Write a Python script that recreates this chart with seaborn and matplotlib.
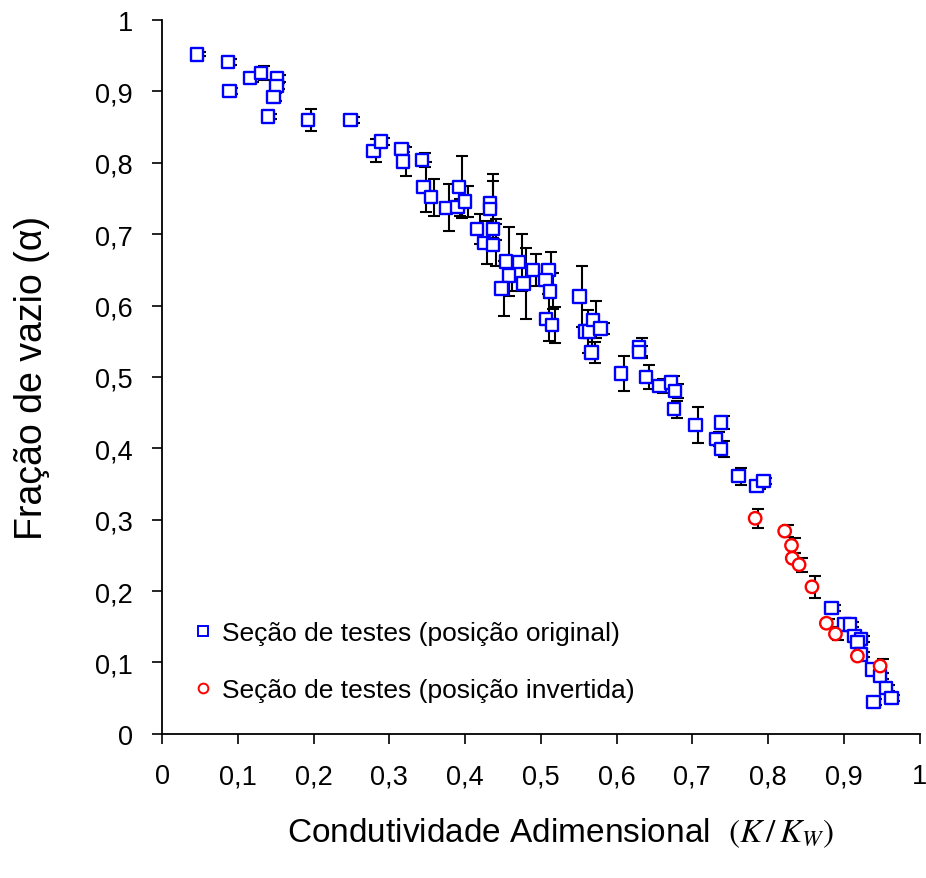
import numpy as np
import pandas as pd
import seaborn as sns
import matplotlib.pyplot as plt
from matplotlib.ticker import FuncFormatter
from matplotlib.transforms import offset_copy

# === DATA ===
orig_x = [0.046, 0.087, 0.089, 0.116, 0.131, 0.152, 0.151, 0.147, 0.140, 0.193,
          0.249, 0.279, 0.289, 0.316, 0.318, 0.343, 0.345, 0.355, 0.375, 0.392,
          0.390, 0.400, 0.416, 0.425, 0.433, 0.433, 0.437, 0.437, 0.454, 0.458,
          0.448, 0.471, 0.477, 0.490, 0.510, 0.506, 0.512, 0.507, 0.515, 0.551,
          0.559, 0.564, 0.569, 0.579, 0.567, 0.606, 0.630, 0.630, 0.639, 0.657,
          0.672, 0.677, 0.676, 0.704, 0.738, 0.731, 0.738, 0.761, 0.785, 0.794,
          0.884, 0.901, 0.908, 0.914, 0.923, 0.918, 0.923, 0.938, 0.948, 0.956,
          0.963, 0.939]
orig_y = [0.952, 0.941, 0.901, 0.919, 0.926, 0.918, 0.908, 0.892, 0.865, 0.860,
          0.860, 0.817, 0.830, 0.819, 0.802, 0.804, 0.766, 0.752, 0.737, 0.766,
          0.738, 0.746, 0.707, 0.688, 0.744, 0.735, 0.707, 0.685, 0.662, 0.642,
          0.624, 0.661, 0.631, 0.650, 0.650, 0.636, 0.620, 0.581, 0.573, 0.613,
          0.564, 0.564, 0.580, 0.568, 0.534, 0.505, 0.542, 0.535, 0.500, 0.487,
          0.492, 0.480, 0.455, 0.433, 0.436, 0.413, 0.399, 0.361, 0.347, 0.354,
          0.176, 0.153, 0.153, 0.137, 0.133, 0.129, 0.111, 0.090, 0.081, 0.064,
          0.050, 0.045]
orig_err = [0.003, 0.004, 0.004, 0.006, 0.010, 0.005, 0.004, 0.006, 0.004, 0.015,
            0.004, 0.016, 0.005, 0.004, 0.020, 0.010, 0.035, 0.026, 0.033, 0.043,
            0.012, 0.022, 0.021, 0.030, 0.040, 0.040, 0.015, 0.030, 0.048, 0.022,
            0.038, 0.040, 0.050, 0.022, 0.025, 0.020, 0.025, 0.030, 0.025, 0.043,
            0.030, 0.020, 0.026, 0.008, 0.015, 0.025, 0.012, 0.008, 0.017, 0.010,
            0.010, 0.010, 0.012, 0.025, 0.009, 0.010, 0.011, 0.012, 0.004, 0.004,
            0.004, 0.004, 0.004, 0.004, 0.004, 0.004, 0.004, 0.004, 0.004, 0.004,
            0.004, 0.004]

inv_x = [0.783, 0.822, 0.831, 0.832, 0.841, 0.858, 0.877, 0.889, 0.918, 0.948]
inv_y = [0.302, 0.284, 0.264, 0.246, 0.237, 0.206, 0.155, 0.140, 0.109, 0.095]
inv_err = [0.013, 0.008, 0.010, 0.008, 0.010, 0.015, 0.006, 0.009, 0.004, 0.010]

lbl_orig = "Seção de testes (posição original)"
lbl_inv = "Seção de testes (posição invertida)"
colors = {lbl_orig: "#0000ff", lbl_inv: "#ff0000"}

df = pd.concat([
    pd.DataFrame({"k": orig_x, "alpha": orig_y, "err": orig_err, "serie": lbl_orig}),
    pd.DataFrame({"k": inv_x, "alpha": inv_y, "err": inv_err, "serie": lbl_inv}),
], ignore_index=True)

# === Plot ===
sns.set_style("ticks")
plt.rcParams["font.family"] = ["Liberation Sans", "DejaVu Sans"]
plt.rcParams["mathtext.fontset"] = "stix"
plt.rcParams["text.color"] = "black"
plt.rcParams["axes.labelcolor"] = "black"

fig = plt.figure(figsize=(9.26, 8.79), dpi=100)
ax = fig.add_axes([0.175, 0.164, 0.818, 0.812])

# error bars sit slightly right of the markers, like in the original
shifted = offset_copy(ax.transData, fig=fig, x=3, y=0, units="dots")
ax.errorbar(df["k"], df["alpha"], yerr=df["err"], fmt="none", ecolor="black",
            elinewidth=1.5, capsize=4.5, capthick=1.5, zorder=2, transform=shifted)

sns.scatterplot(data=df, x="k", y="alpha", hue="serie", style="serie",
                palette=colors, markers={lbl_orig: "s", lbl_inv: "o"},
                s=80, linewidth=1.7, ax=ax, zorder=3)

pts = ax.collections[-1]
pts.set_facecolor("white")
pts.set_edgecolor([colors[s] for s in df["serie"]])

ax.set_xlim(0, 1)
ax.set_ylim(0, 1)
ax.set_xticks(np.arange(0, 1.01, 0.1))
ax.set_yticks(np.arange(0, 1.01, 0.1))
fmt = FuncFormatter(lambda v, p: "0" if abs(v) < 1e-9 else ("1" if abs(v - 1) < 1e-9 else f"{v:.1f}".replace(".", ",")))
ax.xaxis.set_major_formatter(fmt)
ax.yaxis.set_major_formatter(fmt)
ax.tick_params(axis="both", direction="out", length=7, width=1.2, labelsize=19.5,
               colors="black", labelcolor="black")
ax.tick_params(axis="x", pad=14)
ax.tick_params(axis="y", pad=14)
sns.despine(ax=ax)
for sp in ["left", "bottom"]:
    ax.spines[sp].set_linewidth(1.3)
    ax.spines[sp].set_color("black")

ax.set_xlabel(r"Condutividade Adimensional  $(K\,/\,K_W)$", fontsize=24, color="black")
ax.xaxis.set_label_coords(0.526, -0.115)
ax.set_ylabel("Fração de vazio (α)", fontsize=27, color="black")
ax.yaxis.set_label_coords(-0.148, 0.5)

handles, labels = ax.get_legend_handles_labels()
for h, c in zip(handles, [colors[lbl_orig], colors[lbl_inv]]):
    h.set_markerfacecolor("white")
    h.set_markeredgecolor(c)
    h.set_markersize(7)
    h.set_markeredgewidth(1.4)
leg = ax.legend(handles, labels, loc="lower left", bbox_to_anchor=(0.002, 0.011), frameon=False,
                fontsize=19, handletextpad=0.1, labelspacing=1.25, handlelength=1.2)
for t in leg.get_texts():
    t.set_color("black")

fig.savefig("out.png", dpi=100)
